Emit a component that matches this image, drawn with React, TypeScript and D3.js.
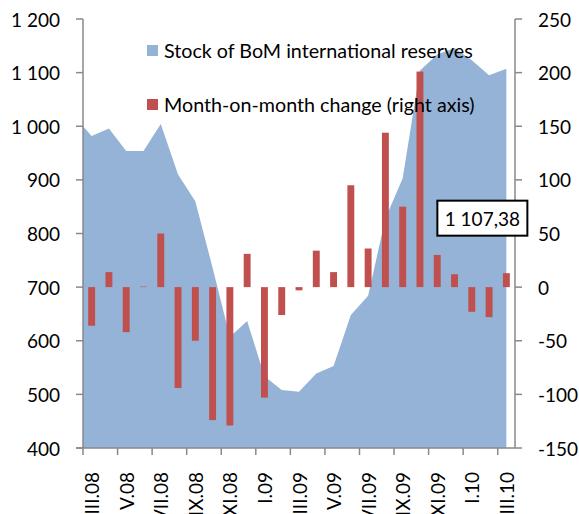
import React from 'react';
import * as d3 from 'd3';

// months shown on the category axis (Mar 2008 .. Mar 2010)
const months = [
  'III.08', 'IV.08', 'V.08', 'VI.08', 'VII.08', 'VIII.08', 'IX.08', 'X.08', 'XI.08', 'XII.08',
  'I.09', 'II.09', 'III.09', 'IV.09', 'V.09', 'VI.09', 'VII.09', 'VIII.09', 'IX.09', 'X.09',
  'XI.09', 'XII.09', 'I.10', 'II.10', 'III.10',
];

// stock of reserves, left axis (the Feb 2008 value sits just outside the plot)
const prevReserves = 1018;
const reserves = [
  982, 996, 954, 954, 1004, 910, 860, 736, 607, 637,
  534, 508, 505, 539, 553, 648, 684, 828, 903, 1104,
  1134, 1146, 1123, 1095, 1107.38,
];

// month-on-month change, right axis
const changes = [
  -36, 14, -42, 0.5, 50, -94, -50, -124, -129, 31,
  -103, -26, -3, 34, 14, 95, 36, 144, 75, 201,
  30, 12, -23, -28, 13,
];

const leftTicks = [400, 500, 600, 700, 800, 900, 1000, 1100, 1200];
const rightTicks = [-150, -100, -50, 0, 50, 100, 150, 200, 250];

const legendItems = [
  { label: 'Stock of BoM international reserves', color: '#95B3D7' },
  { label: 'Month-on-month change (right axis)', color: '#C0504D' },
];

const W = 579;
const H = 514;
const m = { top: 19, right: 64, bottom: 66, left: 83 };
const FONT = 'Lato, "Open Sans", sans-serif';

const loc = d3.formatLocale({ decimal: ',', thousands: ' ', grouping: [3], currency: ['', ''], minus: '-' });
const fmtInt = loc.format(',');
const fmtDec = loc.format(',.2f');

const App = () => {
  const x0 = m.left;
  const x1 = W - m.right;
  const y0 = H - m.bottom;
  const y1 = m.top;

  const x = d3.scaleBand<string>().domain(months).range([x0, x1]).paddingInner(0.6).paddingOuter(0.3);
  const xi = d3.scaleLinear().domain([-0.5, months.length - 0.5]).range([x0, x1]);
  const yL = d3.scaleLinear().domain([400, 1200]).range([y0, y1]);
  const yR = d3.scaleLinear().domain([-150, 250]).range([y0, y1]);

  const areaPts: [number, number][] = [[-1, prevReserves], ...reserves.map((v, i) => [i, v] as [number, number])];
  const area = d3
    .area<[number, number]>()
    .x((d) => xi(d[0]))
    .y0(y0)
    .y1((d) => yL(d[1]));

  const lastIdx = reserves.length - 1;
  const xTicks = d3.range(0, 13).map((k) => k * 2 - 0.5);
  const axisColor = '#898989';

  return (
    <svg width={W} height={H} style={{ position: 'absolute', left: 0, top: 0 }} fontFamily={FONT}>
      <defs>
        <clipPath id="plot">
          <rect x={x0} y={y1} width={x1 - x0} height={y0 - y1} />
        </clipPath>
      </defs>
      <rect width={W} height={H} fill="#fff" />

      <path d={area(areaPts) || ''} fill="#95B3D7" clipPath="url(#plot)" />

      {changes.map((c, i) => (
        <rect
          key={months[i]}
          x={x(months[i])}
          width={x.bandwidth()}
          y={yR(Math.max(0, c))}
          height={Math.abs(yR(c) - yR(0))}
          fill="#C0504D"
        />
      ))}

      {/* left axis */}
      <line x1={x0} x2={x0} y1={y1} y2={y0} stroke={axisColor} strokeWidth={1.5} />
      {leftTicks.map((t) => (
        <g key={'l' + t}>
          <line x1={x0 - 7} x2={x0} y1={yL(t)} y2={yL(t)} stroke={axisColor} strokeWidth={1.5} />
          <text x={60} y={yL(t)} textAnchor="end" dominantBaseline="central" fontSize={19} fill="#000">
            {fmtInt(t)}
          </text>
        </g>
      ))}

      {/* right axis */}
      <line x1={x1} x2={x1} y1={y1} y2={y0} stroke={axisColor} strokeWidth={1.5} />
      {rightTicks.map((t) => (
        <g key={'r' + t}>
          <line x1={x1} x2={x1 + 7} y1={yR(t)} y2={yR(t)} stroke={axisColor} strokeWidth={1.5} />
          <text x={538} y={yR(t)} dominantBaseline="central" fontSize={19} fill="#000">
            {String(t)}
          </text>
        </g>
      ))}

      {/* category axis */}
      <line x1={x0 - 7} x2={x1} y1={y0} y2={y0} stroke={axisColor} strokeWidth={1.5} />
      {xTicks.map((t) => (
        <line key={'x' + t} x1={xi(t)} x2={xi(t)} y1={y0} y2={y0 + 7} stroke={axisColor} strokeWidth={1.5} />
      ))}
      {months.map((mo, i) =>
        i % 2 === 0 ? (
          <text
            key={'lab' + mo}
            transform={`translate(${xi(i)},${y0 + 24}) rotate(-90)`}
            textAnchor="end"
            dominantBaseline="central"
            fontSize={19}
            fill="#000"
          >
            {mo}
          </text>
        ) : null
      )}

      {/* legend */}
      {legendItems.map((it, i) => (
        <g key={it.label} transform={`translate(147,${45 + i * 54})`}>
          <rect width={11} height={11} fill={it.color} />
          <text x={17} y={5.5} dominantBaseline="central" fontSize={19.7} fill="#000">
            {it.label}
          </text>
        </g>
      ))}

      {/* data label for the last point */}
      <g transform={`translate(${xi(lastIdx) - 69},${yL(reserves[lastIdx]) + 132})`}>
        <rect width={90} height={35} fill="#fff" stroke="#000" strokeWidth={2} />
        <text x={45} y={18} textAnchor="middle" dominantBaseline="central" fontSize={19} fill="#000">
          {fmtDec(reserves[lastIdx])}
        </text>
      </g>
    </svg>
  );
};

export default App;
